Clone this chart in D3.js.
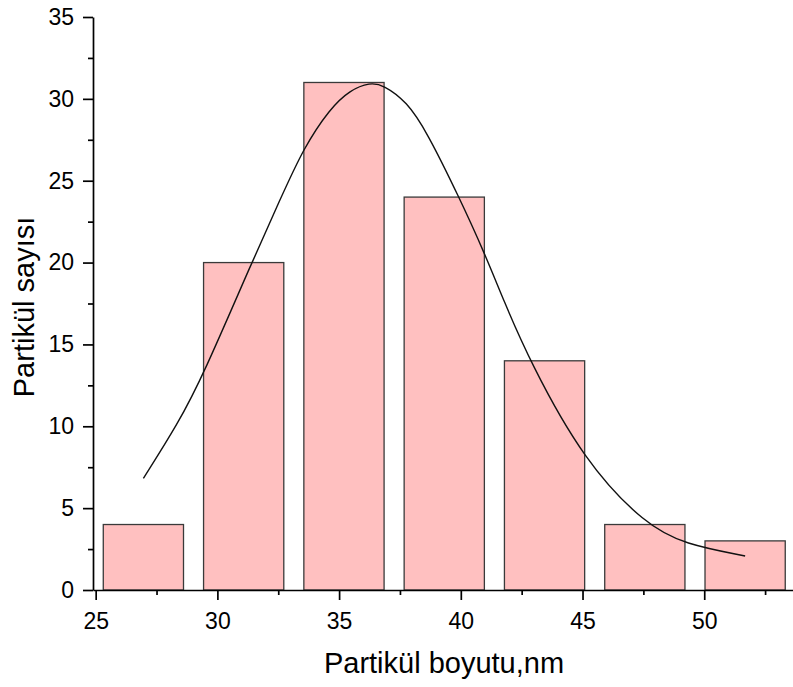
<!DOCTYPE html>
<html>
<head>
<meta charset="utf-8">
<script src="https://cdn.jsdelivr.net/npm/d3@7"></script>
<style>
  html, body { margin: 0; padding: 0; background: #fff; }
  svg { display: block; }
  text { font-family: "Liberation Sans", Arial, sans-serif; fill: #000; }
</style>
</head>
<body>
<svg id="chart" width="793" height="687"></svg>
<script>
// ---- data ----
const binCenters = [26.96, 31.08, 35.2, 39.32, 43.44, 47.56, 51.68];
const counts = [4, 20, 31, 24, 14, 4, 3];
const binWidth = 4.12;

// fitted distribution curve
const curveX = [26.96, 28.39, 29.42, 31.41, 32.57, 33.53, 34.63, 35.45, 36.27, 36.82, 37.78, 38.6, 39.93, 40.97, 41.75, 42.84, 45.06, 47.6, 49.21, 51.68];
const curveY = [6.82, 10.18, 13.13, 20.0, 23.82, 26.98, 29.42, 30.54, 31.0, 30.85, 29.83, 28.0, 23.99, 20.6, 17.72, 13.95, 7.88, 3.97, 2.79, 2.08];

const xMajorTicks = [25, 30, 35, 40, 45, 50];
const xMinorTicks = [27.5, 32.5, 37.5, 42.5, 47.5, 52.5];
const yMajorTicks = [0, 5, 10, 15, 20, 25, 30, 35];
const yMinorTicks = [2.5, 7.5, 12.5, 17.5, 22.5, 27.5, 32.5];

const xTitle = "Partikül boyutu,nm";
const yTitle = "Partikül sayısı";

// ---- layout ----
const svg = d3.select("#chart");
const mLeft = 93, mRight = 794.3, mTop = 17, mBottom = 590;

const x = d3.scaleLinear().domain([24.89, 53.7]).range([mLeft, mRight]);
const y = d3.scaleLinear().domain([0, 35]).range([mBottom, mTop]);

// bars
const barFrac = 0.8;
svg.append("g").selectAll("rect")
  .data(binCenters.map((c, i) => ({ c, v: counts[i] })))
  .join("rect")
  .attr("x", d => x(d.c - binWidth * barFrac / 2))
  .attr("width", d => x(d.c + binWidth * barFrac / 2) - x(d.c - binWidth * barFrac / 2))
  .attr("y", d => y(d.v))
  .attr("height", d => y(0) - y(d.v))
  .attr("fill", "#FFC0C0")
  .attr("stroke", "#3a3a3a")
  .attr("stroke-width", 1.3);

// curve
const line = d3.line()
  .x(d => x(d[0]))
  .y(d => y(d[1]))
  .curve(d3.curveBasis);
svg.append("path")
  .datum(curveX.map((v, i) => [v, curveY[i]]))
  .attr("d", line)
  .attr("fill", "none")
  .attr("stroke", "#111")
  .attr("stroke-width", 1.4);

// axes
const fontSize = 23;
function styleAxis(g) {
  g.selectAll("path, line").attr("stroke", "#000").attr("stroke-width", 1.7);
  g.selectAll("text").style("font-size", fontSize + "px").attr("fill", "#000");
}

const gx = svg.append("g").attr("transform", `translate(0,${mBottom})`);
gx.call(d3.axisBottom(x).tickValues(xMajorTicks).tickSize(10).tickSizeOuter(0).tickPadding(12.5).tickFormat(d3.format("d")));
styleAxis(gx);
const gxm = svg.append("g").attr("transform", `translate(0,${mBottom})`);
gxm.call(d3.axisBottom(x).tickValues(xMinorTicks).tickSize(5).tickSizeOuter(0).tickFormat(""));
gxm.select(".domain").remove();
styleAxis(gxm);

const gy = svg.append("g").attr("transform", `translate(${mLeft},0)`);
gy.call(d3.axisLeft(y).tickValues(yMajorTicks).tickSize(10).tickSizeOuter(0).tickPadding(9).tickFormat(d3.format("d")));
styleAxis(gy);
const gym = svg.append("g").attr("transform", `translate(${mLeft},0)`);
gym.call(d3.axisLeft(y).tickValues(yMinorTicks).tickSize(5).tickSizeOuter(0).tickFormat(""));
gym.select(".domain").remove();
styleAxis(gym);

// titles
svg.append("text")
  .attr("x", 444).attr("y", 673)
  .attr("text-anchor", "middle")
  .style("font-size", "29px")
  .text(xTitle);

svg.append("text")
  .attr("transform", "translate(34,307) rotate(-90)")
  .attr("text-anchor", "middle")
  .style("font-size", "29px")
  .text(yTitle);
</script>
</body>
</html>
